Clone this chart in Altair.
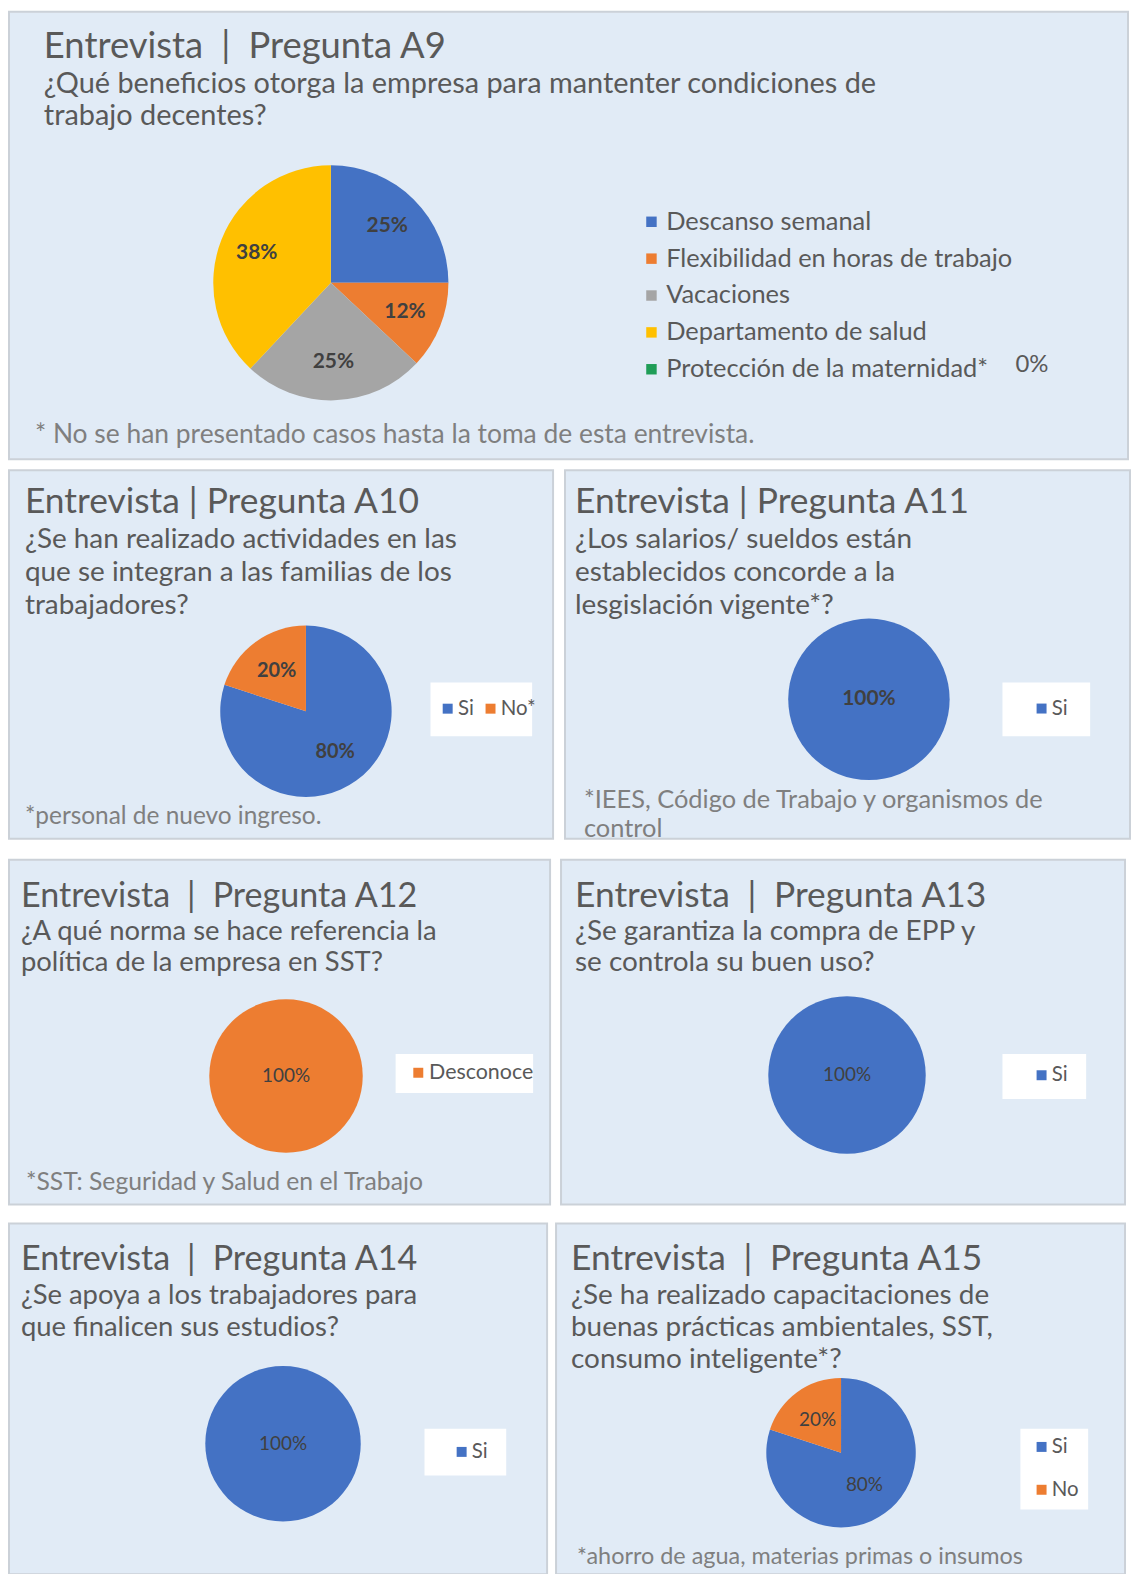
import altair as alt
import pandas as pd

FONT = "Lato"
BG = "#e1ebf6"
BORDER = "#cbd1d8"
TXT = "#595959"
NOTE = "#7f7f7f"
LBL = "#404040"
BLUE, ORANGE, GRAY, YELLOW, GREEN = "#4472c4", "#ed7d31", "#a5a5a5", "#ffc000", "#1f9d57"

# ---------------- data ----------------
a9_categories = ["Descanso semanal", "Flexibilidad en horas de trabajo", "Vacaciones",
                 "Departamento de salud", "Protección de la maternidad*"]
a9_values = [25, 12, 25, 38, 0]
a9_colors = [BLUE, ORANGE, GRAY, YELLOW, GREEN]

a10_categories = ["Si", "No*"]
a10_values = [80, 20]
a11_categories = ["Si"]
a11_values = [100]
a12_categories = ["Desconoce"]
a12_values = [100]
a13_categories = ["Si"]
a13_values = [100]
a14_categories = ["Si"]
a14_values = [100]
a15_categories = ["Si", "No"]
a15_values = [80, 20]

titles = {
    "A9": "Entrevista\u2002|\u2002Pregunta A9",
    "A10": "Entrevista | Pregunta A10",
    "A11": "Entrevista | Pregunta A11",
    "A12": "Entrevista\u2002|\u2002Pregunta A12",
    "A13": "Entrevista\u2002|\u2002Pregunta A13",
    "A14": "Entrevista\u2002|\u2002Pregunta A14",
    "A15": "Entrevista\u2002|\u2002Pregunta A15",
}
questions = {
    "A9": ["¿Qué beneficios otorga la empresa para mantenter condiciones de", "trabajo decentes?"],
    "A10": ["¿Se han realizado actividades en las", "que se integran a las familias de los",
            "trabajadores?"],
    "A11": ["¿Los salarios/ sueldos están", "establecidos concorde a la", "lesgislación vigente*?"],
    "A12": ["¿A qué norma se hace referencia la", "política de la empresa en SST?"],
    "A13": ["¿Se garantiza la compra de EPP y", "se controla su buen uso?"],
    "A14": ["¿Se apoya a los trabajadores para", "que finalicen sus estudios?"],
    "A15": ["¿Se ha realizado capacitaciones de", "buenas prácticas ambientales, SST,",
            "consumo inteligente*?"],
}
notes = {
    "A9": ["* No se han presentado casos hasta la toma de esta entrevista."],
    "A10": ["*personal de nuevo ingreso."],
    "A11": ["*IEES, Código de Trabajo y organismos de", "control"],
    "A12": ["*SST: Seguridad y Salud en el Trabajo"],
    "A15": ["*ahorro de agua, materias primas o insumos"],
}


# ---------------- helpers ----------------
def text_lines(lines, x, y0, size, color=TXT, weight="normal", lh=0):
    """one single-line text layer per line of text"""
    out = []
    for k, s in enumerate(lines):
        out.append(alt.Chart(pd.DataFrame({"t": [s]})).mark_text(
            align="left", baseline="alphabetic", font=FONT, fontSize=size, color=color,
            fontWeight=weight
        ).encode(text="t:N", x=alt.value(x), y=alt.value(y0 + k * lh)))
    return out


def box_layer(x1, x2, y1, y2):
    return alt.Chart(pd.DataFrame({"b": [0]})).mark_rect(color="white").encode(
        x=alt.value(x1), x2=alt.value(x2), y=alt.value(y1), y2=alt.value(y2))


def legend(x, y, direction="vertical", size=20, rowpad=2, colpad=10, sym=100, loff=0):
    return alt.Legend(orient="none", legendX=x, legendY=y, direction=direction, title=None,
                      symbolType="square", symbolSize=sym, symbolStrokeWidth=0,
                      labelFont=FONT, labelFontSize=size, labelColor=TXT, labelLimit=0,
                      rowPadding=rowpad, columnPadding=colpad, labelOffset=loff, padding=0)


def pie_layers(cats, vals, colors, cx, cy, r, lr, lsize, lweight, leg):
    df = pd.DataFrame({"cat": cats, "v": vals, "idx": list(range(len(cats)))})
    df["lbl"] = [f"{v}%" for v in vals]
    base = alt.Chart(df).encode(theta=alt.Theta("v:Q", stack=True),
                                order=alt.Order("idx:Q", sort="ascending"))
    arc = base.mark_arc(outerRadius=r).encode(
        x=alt.value(cx), y=alt.value(cy),
        color=alt.Color("cat:N", scale=alt.Scale(domain=cats, range=colors), legend=leg))
    txt = base.transform_filter("datum.v > 0").mark_text(
        radius=lr, font=FONT, fontSize=lsize, fontWeight=lweight, color=LBL
    ).encode(x=alt.value(cx), y=alt.value(cy), text="lbl:N", detail="cat:N")
    return [arc, txt]


def indep(c):
    return c.resolve_scale(color="independent", theta="independent").resolve_legend(color="independent")


# ---------------- panels ----------------
TS = 35.5   # title size
TS2 = 34.2  # narrower titles (A12, A14)
QS = 28     # question size

p9 = alt.layer(
    *text_lines([titles["A9"]], 35, 46, 36.5),
    *text_lines(questions["A9"], 35, 82, 29, lh=32),
    *pie_layers(a9_categories, a9_values, a9_colors, 323, 272, 118, 80, 21, "bold",
                legend(632, 198, size=25.5, rowpad=10, sym=110, loff=2)),
    *text_lines([f"{a9_values[4]}%"], 1010, 362, 24),
    *text_lines(notes["A9"], 26, 433, 26.5, color=NOTE),
).properties(width=1123, height=449)

p10 = alt.layer(
    *text_lines([titles["A10"]], 16, 43, TS),
    *text_lines(questions["A10"], 16, 78, QS, lh=33),
    box_layer(423, 525, 213, 267),
    *pie_layers(a10_categories, a10_values, [BLUE, ORANGE], 298, 242, 86, 50, 20, "bold",
                legend(430, 229, direction="horizontal", size=20.5, colpad=6)),
    *text_lines(notes["A10"], 16, 355, 24.5, color=NOTE),
).properties(width=546, height=370)

p11 = alt.layer(
    *text_lines([titles["A11"]], 10, 43, TS),
    *text_lines(questions["A11"], 10, 78, QS, lh=33),
    box_layer(439, 527, 213, 267),
    *pie_layers(a11_categories, a11_values, [BLUE], 305, 230, 81, 0, 21, "bold",
                legend(468, 229, size=20.5)),
    *text_lines(notes["A11"], 19, 339, 25.5, color=NOTE, lh=29),
).properties(width=567, height=370)

p12 = alt.layer(
    *text_lines([titles["A12"]], 12, 47, TS2),
    *text_lines(questions["A12"], 12, 81, 27.5, lh=31),
    box_layer(388, 526, 195, 234),
    *pie_layers(a12_categories, a12_values, [ORANGE], 278, 217, 77, 0, 19, "normal",
                legend(400, 203, size=21.5)),
    *text_lines(notes["A12"], 17, 331, 24.8, color=NOTE),
).properties(width=543, height=346)

p13 = alt.layer(
    *text_lines([titles["A13"]], 14, 47, TS),
    *text_lines(questions["A13"], 14, 81, QS, lh=31),
    box_layer(443, 527, 195, 240),
    *pie_layers(a13_categories, a13_values, [BLUE], 287, 216, 79, 0, 19, "normal",
                legend(472, 206, size=20.5)),
).properties(width=566, height=346)

p14 = alt.layer(
    *text_lines([titles["A14"]], 12, 47, TS2),
    *text_lines(questions["A14"], 12, 81, 27.5, lh=32),
    box_layer(417, 499, 206, 253),
    *pie_layers(a14_categories, a14_values, [BLUE], 275, 221, 78, 0, 19, "normal",
                legend(444, 219, size=20.5)),
).properties(width=540, height=352)

p15 = alt.layer(
    *text_lines([titles["A15"]], 15, 47, TS),
    *text_lines(questions["A15"], 15, 81, QS, lh=32),
    box_layer(466, 534, 206, 287),
    *pie_layers(a15_categories, a15_values, [BLUE, ORANGE], 286, 230, 75, 40, 19, "normal",
                legend(477, 214, size=20.5, rowpad=22)),
    *text_lines(notes["A15"], 21, 342, 23.5, color=NOTE),
).properties(width=571, height=352)

row2 = indep(alt.hconcat(p10, p11, spacing=10))
row3 = indep(alt.hconcat(p12, p13, spacing=9))
row4 = indep(alt.hconcat(p14, p15, spacing=7))

chart = indep(alt.vconcat(
    p9,
    indep(alt.vconcat(row2, indep(alt.vconcat(row3, row4, spacing=17)), spacing=15)),
    spacing=9,
)).properties(padding=0, background="white").configure_view(
    fill=BG, stroke=BORDER, strokeWidth=2
)

chart.save("out.html", embed_options={"renderer": "svg", "actions": False})
